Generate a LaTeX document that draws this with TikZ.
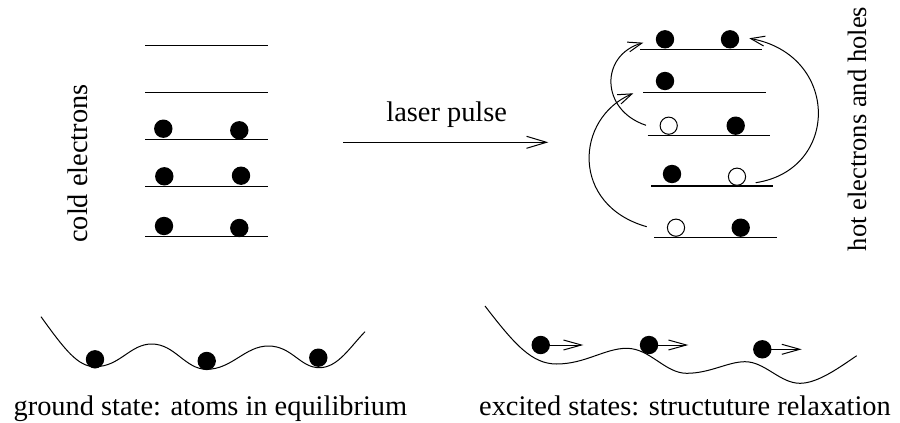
\documentclass[tikz,border=0pt]{standalone}
\usepackage{fontspec}
\setmainfont{Liberation Serif}
\usetikzlibrary{arrows.meta}
\begin{document}
\begin{tikzpicture}[x=0.5pt,y=-0.5pt,
  level/.style={line width=0.65pt},
  edot/.style={circle,fill=black,inner sep=0pt,minimum size=9.2pt},
  hdot/.style={circle,draw=black,fill=white,line width=0.5pt,inner sep=0pt,minimum size=8.6pt},
  curve/.style={line width=0.5pt},
  hop/.style={line width=0.5pt,-{Straight Barb[length=7pt,width=5pt]}},
  pulse/.style={line width=0.5pt,-{Straight Barb[length=10pt,width=6pt]}},
  push/.style={line width=0.5pt,-{Straight Barb[length=9pt,width=5pt]}},
  lbl/.style={font=\fontsize{14.2}{17}\selectfont,inner sep=0pt}]
\useasboundingbox (0,0) rectangle (900,423);

% left: cold electrons
\foreach \y in {45.7,92.7,139.3,186.7,236.7}
  \draw[level] (145,\y) -- (268,\y);
\node[edot] (c1) at (163.3,128.7) {};
\node[edot] (c2) at (239.3,130.3) {};
\node[edot] (c3) at (164.3,176.3) {};
\node[edot] (c4) at (241,175.7) {};
\node[edot] (c5) at (164,226) {};
\node[edot] (c6) at (239.3,228) {};
\node[lbl,rotate=90,anchor=base] (cold) at (87,163.5) {cold electrons};

% laser pulse
\coordinate (ps) at (343.3,142.3);
\coordinate (pe) at (548.3,142.3);
\draw[pulse] (ps) -- (pe);
\node[lbl,anchor=base] (laser) at (446.7,121.7) {laser pulse};

% right: hot electrons
\draw[level] (640,49.3) -- (762.3,49.3);
\draw[level] (643.3,92.7) -- (766,92.7);
\draw[level] (647.7,135.7) -- (770,135.7);
\draw[level] (651,186) -- (773.3,186);
\draw[level] (654.3,237.3) -- (776.7,237.3);
\node[edot] (h1) at (665,39.3) {};
\node[edot] (h2) at (730,39.3) {};
\node[edot] (h3) at (665,81) {};
\node[hdot] (h4) at (668.7,125.7) {};
\node[edot] (h5) at (735.7,125.7) {};
\node[edot] (h6) at (672,174) {};
\node[hdot] (h7) at (737,176.7) {};
\node[hdot] (h8) at (676,227.7) {};
\node[edot] (h9) at (740.7,227.7) {};
\node[lbl,font=\fontsize{13.3}{16}\selectfont,rotate=90,anchor=base] (hot) at (866.7,129) {hot electrons and holes};

\coordinate (a1s) at (646,125.3);
\coordinate (a1e) at (643.3,42.7);
\coordinate (a2s) at (646.7,226.7);
\coordinate (a2e) at (633.3,93.3);
\coordinate (a3s) at (755.7,182.7);
\coordinate (a3e) at (749.3,38.3);
\draw[hop] (a1s) .. controls (600,110) and (600,55) .. (a1e);
\draw[hop] (a2s) .. controls (570,205) and (575,118) .. (a2e);
\draw[hop] (a3s) .. controls (840,170) and (840,55) .. (a3e);

% bottom left: ground state
\draw[curve] (41,316.7) .. controls (65,350) and (78,366.7) .. (95,366.7)
  .. controls (120,366.7) and (130,344) .. (151.7,344)
  .. controls (175,344) and (185,369.3) .. (206.7,369.3)
  .. controls (232,369.3) and (245,346) .. (268.3,346)
  .. controls (292,346) and (300,367.7) .. (319.3,367.7)
  .. controls (338,367.7) and (350,347) .. (365,331.7);
\node[edot] (g1) at (95,359.3) {};
\node[edot] (g2) at (206.7,361) {};
\node[edot] (g3) at (318.3,357.7) {};
\node[lbl,anchor=base] (gtext) at (210.4,415) {ground state: atoms in equilibrium};

% bottom right: excited states
\draw[curve] (485,306) .. controls (515,345) and (532,364) .. (556.7,364)
  .. controls (585,364) and (605,348.3) .. (626.7,348.3)
  .. controls (650,348.3) and (665,373.3) .. (686.7,373.3)
  .. controls (710,373.3) and (728,361.7) .. (745,361.7)
  .. controls (765,361.7) and (780,383.3) .. (800,383.3)
  .. controls (818,383.3) and (840,367) .. (856.7,355.7);
\node[edot] (e1) at (540.7,345) {};
\node[edot] (e2) at (649,345) {};
\node[edot] (e3) at (762.3,349.3) {};
\coordinate (f1) at (583.3,345);
\coordinate (f2) at (688.3,345);
\coordinate (f3) at (801.7,349.3);
\draw[push] (e1.center) -- (f1);
\draw[push] (e2.center) -- (f2);
\draw[push] (e3.center) -- (f3);
\node[lbl,anchor=base] (etext) at (685,415) {excited states: structuture relaxation};
\end{tikzpicture}
\end{document}
